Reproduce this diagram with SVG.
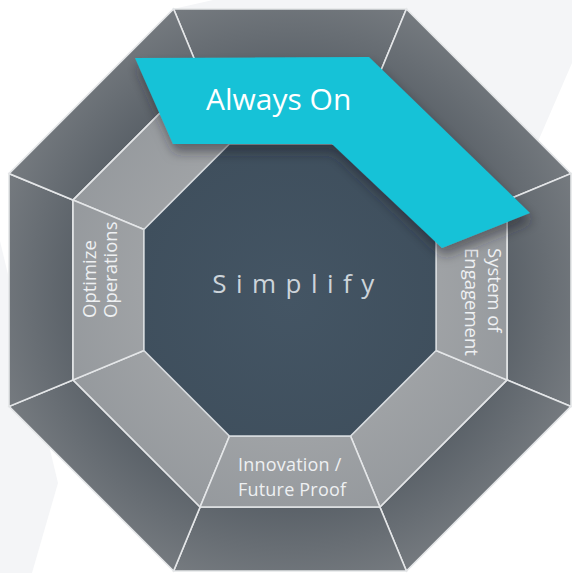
<svg xmlns="http://www.w3.org/2000/svg" width="572" height="573" viewBox="0 0 572 573">
  <defs>
    <radialGradient id="outerGrad" gradientUnits="userSpaceOnUse" cx="290" cy="290" r="305">
      <stop offset="0.7" stop-color="#5a6168"/>
      <stop offset="1" stop-color="#767b80"/>
    </radialGradient>
    <radialGradient id="midGrad" gradientUnits="userSpaceOnUse" cx="290" cy="290" r="235">
      <stop offset="0.6" stop-color="#a0a3a6"/>
      <stop offset="1" stop-color="#95999d"/>
    </radialGradient>
    <radialGradient id="innerGrad" gradientUnits="userSpaceOnUse" cx="290" cy="300" r="160">
      <stop offset="0" stop-color="#445564"/>
      <stop offset="1" stop-color="#3f4f5d"/>
    </radialGradient>
    <filter id="bannerShadow" x="-20%" y="-30%" width="140%" height="170%">
      <feDropShadow dx="2" dy="8" stdDeviation="6" flood-color="#1c2228" flood-opacity="0.5"/>
    </filter>
  </defs>
  <style>
    .outer { fill: url(#outerGrad); stroke: #e4e6e8; stroke-width: 1.6; stroke-linejoin: miter; }
    .mid { fill: url(#midGrad); stroke: #e4e6e8; stroke-width: 1.6; }
    .inner { fill: url(#innerGrad); stroke: #d8dcdf; stroke-width: 1.4; }
    .lbl { font-family: "Open Sans", "Liberation Sans", sans-serif; font-size: 18.5px; fill: #eef0f2; }
    .lbl2 { font-family: "Open Sans", "Liberation Sans", sans-serif; font-size: 18px; letter-spacing: 0.2px; fill: #eef0f2; }
    .title { font-family: "Open Sans", "Liberation Sans", sans-serif; font-size: 30px; fill: #ffffff; }
    .center { font-family: "Open Sans", "Liberation Sans", sans-serif; font-weight: 400; font-size: 26px; letter-spacing: 9.5px; fill: #cdd4da; }
  </style>

  <rect width="572" height="573" fill="#ffffff"/>
  <g id="background" fill="#f4f5f7">
    <polygon points="213,0 572,0 572,63 530,160 290,290 173,9"/>
    <polygon points="0,241 58,483 32,573 0,573"/>
  </g>

  <g id="outer-ring">
    <polygon class="outer" points="173.6,9 406.4,9 379.9,73 200.1,73"/>
    <polygon class="outer" points="406.4,9 571,173.6 507,200.1 379.9,73"/>
    <polygon class="outer" points="571,173.6 571,406.4 507,379.9 507,200.1"/>
    <polygon class="outer" points="571,406.4 406.4,571 379.9,507 507,379.9"/>
    <polygon class="outer" points="406.4,571 173.6,571 200.1,507 379.9,507"/>
    <polygon class="outer" points="173.6,571 9,406.4 73,379.9 200.1,507"/>
    <polygon class="outer" points="9,406.4 9,173.6 73,200.1 73,379.9"/>
    <polygon class="outer" points="9,173.6 173.6,9 200.1,73 73,200.1"/>
  </g>

  <g id="middle-ring">
    <polygon class="mid" points="200.1,73 379.9,73 350.5,144 229.5,144"/>
    <polygon class="mid" points="379.9,73 507,200.1 436,229.5 350.5,144"/>
    <polygon class="mid" points="507,379.9 379.9,507 350.5,436 436,350.5"/>
    <polygon class="mid" points="200.1,507 73,379.9 144,350.5 229.5,436"/>
    <polygon class="mid" points="73,200.1 200.1,73 229.5,144 144,229.5"/>
  </g>

  <g id="optimize-operations">
    <polygon class="mid" points="73,200.1 144,229.5 144,350.5 73,379.9"/>
    <g transform="translate(95.5,318) rotate(-90)">
      <text class="lbl" x="0" y="0">Optimize</text>
      <text class="lbl" x="0" y="21.5">Operations</text>
    </g>
  </g>

  <g id="system-of-engagement">
    <polygon class="mid" points="507,200.1 507,379.9 436,350.5 436,229.5"/>
    <g transform="translate(488,248) rotate(90)">
      <text class="lbl" x="0" y="0">System of</text>
      <text class="lbl" x="0" y="23">Engagement</text>
    </g>
  </g>

  <g id="innovation-future-proof">
    <polygon class="mid" points="229.5,436 350.5,436 379.9,507 200.1,507"/>
    <text class="lbl2" x="238" y="470.5">Innovation /</text>
    <text class="lbl2" x="238" y="495.5">Future Proof</text>
  </g>

  <g id="simplify">
    <polygon class="inner" points="229.5,144 350.5,144 436,229.5 436,350.5 350.5,436 229.5,436 144,350.5 144,229.5"/>
    <text class="center" x="298" y="293" text-anchor="middle">Simplify</text>
  </g>

  <g id="always-on">
    <polygon points="135,58 369,57 530,213 442,248 332,144 173,144" fill="#17c2d7" filter="url(#bannerShadow)"/>
    <text class="title" x="206" y="110">Always On</text>
  </g>
</svg>
